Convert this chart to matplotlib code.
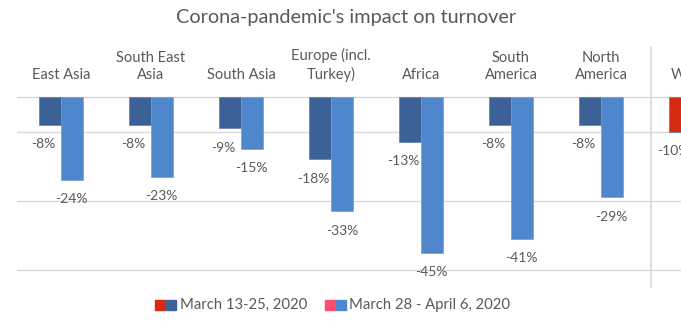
import numpy as np
from matplotlib import pyplot as plt
from matplotlib.patches import Rectangle

regions = ['East Asia', 'South East\nAsia', 'South Asia', 'Europe (incl.\nTurkey)',
           'Africa', 'South\nAmerica', 'North\nAmerica', 'World']
march_13_25 = [-8, -8, -9, -18, -13, -8, -8, -10]
march_28_apr6 = [-24, -23, -15, -33, -45, -41, -29, np.nan]

dark_blue = '#3b6196'
light_blue = '#5086cc'
red = '#d42a0f'
pink = '#ff4d6a'
grey_txt = '#595959'

plt.rcParams['font.family'] = ['Lato', 'DejaVu Sans']

fig = plt.figure(figsize=(6.81, 3.26), dpi=100)
W, H = 681, 326
top_px, bot_px = 40, 290
ax = fig.add_axes([17 / W, 1 - bot_px / H, 664 / W, (bot_px - top_px) / H])

ppu = 3.46  # pixels per percent
zero_px = 97
ax.set_ylim(-(bot_px - zero_px) / ppu, (zero_px - top_px) / ppu)
ax.set_xlim(-44 / 90, 664 / 90 - 44 / 90)

x = np.arange(len(regions))
w = 0.239
c1 = [dark_blue] * 7 + [red]
c2 = [light_blue] * 7 + [pink]
ax.bar(x - w / 2, march_13_25, w, color=c1, edgecolor='#5a7fb5', linewidth=0.5, zorder=3)
ax.bar(x + w / 2, march_28_apr6, w, color=c2, edgecolor='#6f9ad6', linewidth=0.5, zorder=3)

for g in [0, -10, -30, -50]:
    ax.axhline(g, color='#d9d9d9', linewidth=1, zorder=1)
ax.axvline(6.556, ymin=(bot_px - 287) / (bot_px - top_px), ymax=(bot_px - 47) / (bot_px - top_px),
           color='#d9d9d9', linewidth=1.2, zorder=1)

for i in range(len(regions)):
    v1 = march_13_25[i]
    ax.annotate(f'{v1}%', (x[i] - w / 2, v1), textcoords='offset points', xytext=(-5, -14),
                ha='center', va='center', fontsize=10, color=grey_txt)
    v2 = march_28_apr6[i]
    if not np.isnan(v2):
        ax.annotate(f'{v2}%', (x[i] + w / 2, v2), textcoords='offset points', xytext=(0, -14),
                    ha='center', va='center', fontsize=10, color=grey_txt)
    ax.text(x[i], (zero_px - 82) / ppu, regions[i], ha='center', va='bottom',
            fontsize=10.5, color=grey_txt, linespacing=1.3)

for s in ax.spines.values():
    s.set_visible(False)
ax.set_xticks([])
ax.set_yticks([])

fig.text(346 / W, 1 - 18 / H, "Corona-pandemic's impact on turnover", ha='center', va='center',
         fontsize=14.3, color=grey_txt)

# legend
ly = 1 - 305 / H
sq = 10
for px, col in [(155, red), (166, dark_blue), (325, pink), (336, light_blue)]:
    fig.patches.append(Rectangle((px / W, ly - sq / 2 / H), sq / W, sq / H, color=col,
                                 transform=fig.transFigure, figure=fig))
fig.text(180 / W, ly, 'March 13-25, 2020', ha='left', va='center', fontsize=10.7, color=grey_txt)
fig.text(349 / W, ly, 'March 28 - April 6, 2020', ha='left', va='center', fontsize=10.7, color=grey_txt)

fig.savefig('out.png', dpi=100)
